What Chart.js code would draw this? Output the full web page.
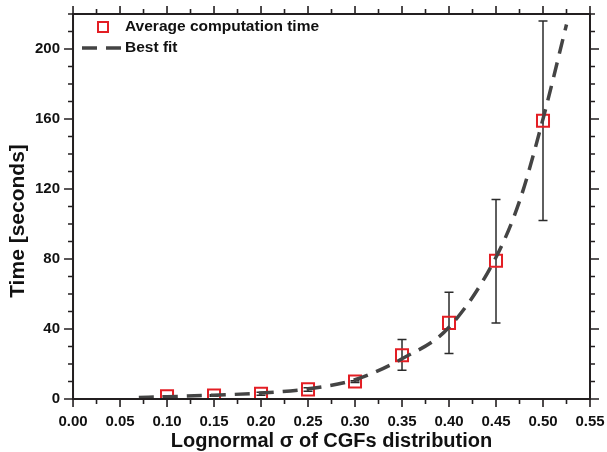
<!DOCTYPE html>
<html>
<head>
<meta charset="utf-8">
<script src="https://cdn.jsdelivr.net/npm/chart.js@4.4.1/dist/chart.umd.min.js"></script>
<style>
  html, body { margin: 0; padding: 0; background: #fff; }
  #wrap { width: 607px; height: 452px; }
</style>
</head>
<body>
<div id="wrap"><canvas id="timeChart" width="607" height="452"></canvas></div>
<script>
// Measured points (sigma, mean time, error bar low / high)
const sigmaValues = [0.10, 0.15, 0.20, 0.25, 0.30, 0.35, 0.40, 0.45, 0.50];
const avgTimes = [1.5, 2, 3, 5.5, 10, 25, 43.5, 79, 159];
const errLow = [1.2, 1.6, 2.2, 4.5, 9.5, 16.5, 26, 43.5, 102];
const errHigh = [1.8, 2.4, 3.8, 6.5, 10.5, 34, 61, 114, 216];

// Best fit curve
const fitSigma = [0.07, 0.10, 0.15, 0.20, 0.25, 0.30, 0.35, 0.40, 0.45, 0.475, 0.50, 0.525];
const fitTimes = [0.9, 1.3, 2.2, 3.4, 5.8, 11, 23, 41, 81, 113, 160, 214];

const legendLabels = ['Average computation time', 'Best fit'];
const xTitle = 'Lognormal σ of CGFs distribution';
const yTitle = 'Time [seconds]';

const axisColor = '#231f20';
const fontFamily = '"Liberation Sans", Arial, sans-serif';

// Draw error bars under the markers
const errorBars = {
  id: 'errorBars',
  beforeDatasetsDraw(chart) {
    const { ctx, scales: { x, y } } = chart;
    ctx.save();
    ctx.strokeStyle = '#2b2b2b';
    ctx.lineWidth = 1.5;
    sigmaValues.forEach((s, i) => {
      const px = x.getPixelForValue(s);
      const top = y.getPixelForValue(errHigh[i]);
      const bot = y.getPixelForValue(errLow[i]);
      ctx.beginPath();
      ctx.moveTo(px, top);
      ctx.lineTo(px, bot);
      ctx.moveTo(px - 4.5, top);
      ctx.lineTo(px + 4.5, top);
      ctx.moveTo(px - 4.5, bot);
      ctx.lineTo(px + 4.5, bot);
      ctx.stroke();
    });
    ctx.restore();
  }
};

// Frame, ticks on all four sides, axis titles and the legend
const frameAndLegend = {
  id: 'frameAndLegend',
  afterDraw(chart) {
    const { ctx, chartArea: a, scales: { x, y } } = chart;
    ctx.save();
    ctx.strokeStyle = axisColor;
    ctx.lineWidth = 2;
    ctx.strokeRect(a.left, a.top, a.right - a.left, a.bottom - a.top);

    ctx.lineWidth = 1.6;
    ctx.beginPath();
    x.ticks.forEach((t, i) => {
      const px = x.getPixelForValue(t.value);
      const len = i % 2 === 0 ? 8 : 5;
      ctx.moveTo(px, a.bottom);
      ctx.lineTo(px, a.bottom + len);
      ctx.moveTo(px, a.top);
      ctx.lineTo(px, a.top - len);
    });
    y.ticks.forEach((t) => {
      const py = y.getPixelForValue(t.value);
      const len = t.value % 40 === 0 ? 9 : 5;
      ctx.moveTo(a.left, py);
      ctx.lineTo(a.left - len, py);
      ctx.moveTo(a.right, py);
      ctx.lineTo(a.right + len, py);
    });
    ctx.stroke();

    // axis titles
    ctx.fillStyle = '#111';
    ctx.textAlign = 'center';
    ctx.textBaseline = 'middle';
    ctx.font = 'bold 20px ' + fontFamily;
    ctx.fillText(xTitle, (a.left + a.right) / 2, 441);
    ctx.font = 'bold 21px ' + fontFamily;
    ctx.translate(18, 221);
    ctx.rotate(-Math.PI / 2);
    ctx.fillText(yTitle, 0, 0);
    ctx.setTransform(1, 0, 0, 1, 0, 0);

    // legend
    ctx.strokeStyle = '#e31e24';
    ctx.lineWidth = 2;
    ctx.strokeRect(98, 22, 10, 10);
    ctx.strokeStyle = '#444';
    ctx.lineWidth = 3.5;
    ctx.setLineDash([15, 9]);
    ctx.beginPath();
    ctx.moveTo(82, 48);
    ctx.lineTo(121, 48);
    ctx.stroke();
    ctx.setLineDash([]);
    ctx.font = 'bold 15.5px ' + fontFamily;
    ctx.textAlign = 'left';
    ctx.fillText(legendLabels[0], 125, 27);
    ctx.fillText(legendLabels[1], 125, 48);
    ctx.restore();
  }
};

const ctx = document.getElementById('timeChart').getContext('2d');
new Chart(ctx, {
  type: 'scatter',
  data: {
    datasets: [
      {
        label: legendLabels[0],
        data: sigmaValues.map((s, i) => ({ x: s, y: avgTimes[i] })),
        pointStyle: 'rect',
        pointRadius: 8.5,
        pointBorderWidth: 2,
        pointBorderColor: '#e31e24',
        pointBackgroundColor: 'rgba(255,255,255,0)',
        showLine: false,
        order: 2
      },
      {
        label: legendLabels[1],
        data: fitSigma.map((s, i) => ({ x: s, y: fitTimes[i] })),
        showLine: true,
        pointRadius: 0,
        borderColor: '#444',
        borderWidth: 3.5,
        borderDash: [15, 9],
        cubicInterpolationMode: 'monotone',
        order: 1
      }
    ]
  },
  options: {
    responsive: false,
    animation: false,
    layout: { padding: { left: 22, right: 17, top: 14, bottom: 22 } },
    plugins: {
      legend: { display: false },
      tooltip: { enabled: false }
    },
    scales: {
      x: {
        type: 'linear',
        min: 0,
        max: 0.55,
        grid: { display: false, drawTicks: false },
        border: { display: false },
        afterFit: (s) => { s.paddingLeft = 0; s.paddingRight = 0; s.height = 31; },
        ticks: {
          stepSize: 0.025,
          autoSkip: false,
          maxRotation: 0,
          padding: 14,
          color: '#111',
          font: { family: fontFamily, size: 15, weight: 'bold' },
          callback: (v, i) => (i % 2 === 0 ? v.toFixed(2) : '')
        }
      },
      y: {
        type: 'linear',
        min: 0,
        max: 220,
        grid: { display: false, drawTicks: false },
        border: { display: false },
        afterFit: (s) => { s.paddingTop = 0; s.paddingBottom = 0; },
        ticks: {
          stepSize: 10,
          autoSkip: false,
          padding: 13,
          color: '#111',
          font: { family: fontFamily, size: 15, weight: 'bold' },
          callback: (v) => (v % 40 === 0 && v <= 200 ? v : '')
        }
      }
    }
  },
  plugins: [errorBars, frameAndLegend]
});
</script>
</body>
</html>
